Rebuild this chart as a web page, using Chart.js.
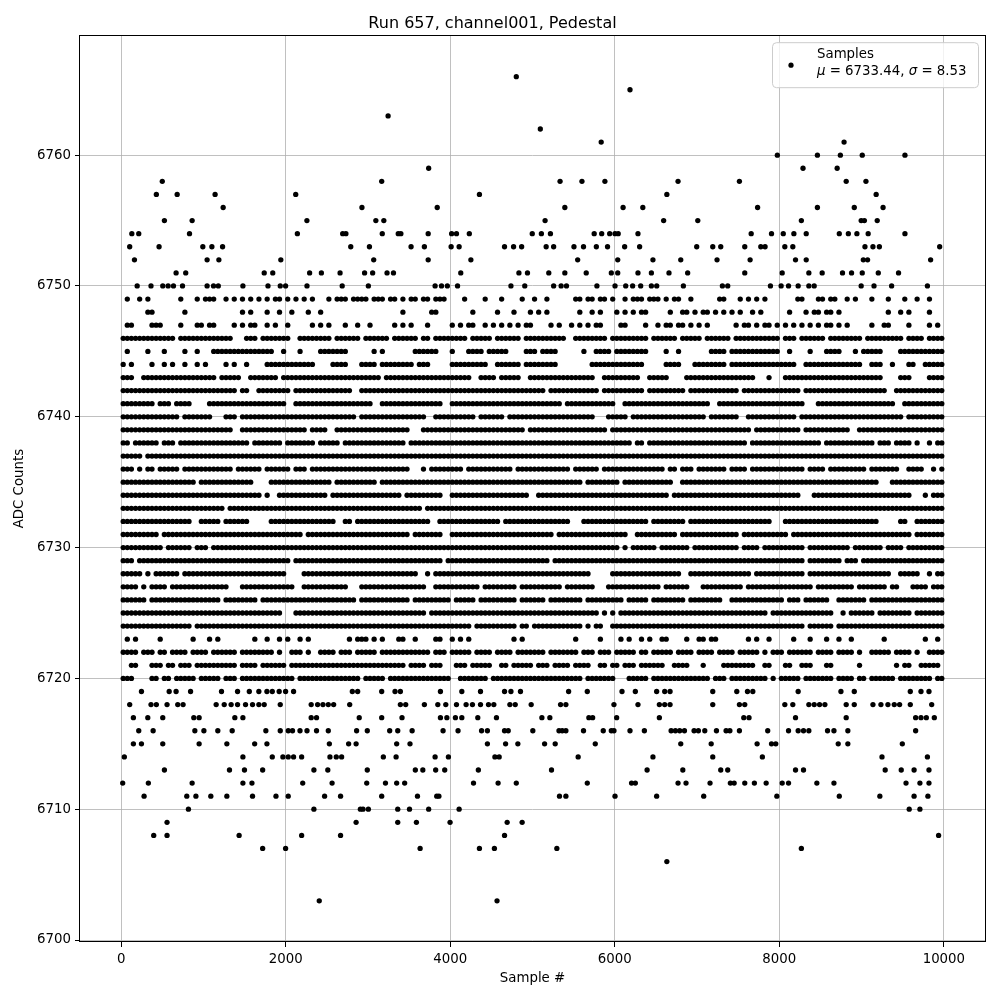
<!DOCTYPE html>
<html>
<head>
<meta charset="utf-8">
<title>Run 657, channel001, Pedestal</title>
<script src="https://cdn.jsdelivr.net/npm/chart.js@4.4.0/dist/chart.umd.min.js"></script>
<style>
  html, body { margin: 0; padding: 0; background: #fff; }
  #wrap { width: 1000px; height: 1000px; }
</style>
</head>
<body>
<div id="wrap"><canvas id="pedestalChart" width="1000" height="1000"></canvas></div>
<script>
// tick values
const xTicks = [0, 2000, 4000, 6000, 8000, 10000];
const yTicks = [6700, 6710, 6720, 6730, 6740, 6750, 6760];

// crowded ADC codes: one char per 50-sample cell, '1' = a sample sits at that code
const cellSamples = 50;
const denseLevels = [6749, 6748, 6747, 6746, 6745, 6744, 6743, 6742, 6741, 6740,
                     6739, 6738, 6737, 6736, 6735, 6734, 6733, 6732, 6731, 6730,
                     6729, 6728, 6727, 6726, 6725, 6724, 6723, 6722, 6721, 6720];
const denseRows = [
  ["01001010000000100010","11100101010101010110","10101010001011101111","01110110101101101110","00010000100010000100","10010000001101101101","00101110111010110010","00000110001010101000","00001100011011001010","00100010001001001000"],
  ["00000011000000010000","00000000010100010010","01000100100000000000","00000000100000011000","00000100000100010001","01010000000100101000","10101011000001001101","01101010101001010000","00100010110110100000","00000010010100001000"],
  ["01100001110000100011","01100001010110010100","10000010101000100100","10000010101000100000","10101100101010101011","00001010010101011000","01100001001011011010","10100000010110101101","01010101010110101000","00100110000100001010"],
  ["11111111111110111111","11111110001110111111","10011111111011111101","11111011111101101111","11110111110111111011","11111111001111111101","11111111011111101111","10111111011111111111","01110111111011111111","01111111110111101111"],
  ["01000010001000010010","00111111111111111001","00010000111111100000","01010000000111111000","10001111011111000011","10111100000010011110","11111111000010010000","00011110111111111111","00100001000111100010","11111000011111111111"],
  ["10100001001010010010","10000101001000011111","11111110000111100011","11011111111011100000","11111111100111111011","11111100000000111111","11111110000011110001","11111110111111111111","11110011111111111111","00111001000110011111"],
  ["11100111111111111111","11101111100111111101","11111111111111111111","11101111111111111111","11111001111011111001","11111111111111100111","11111100111110000111","11111111111111000100","01111111111111111111","11111000011100001111"],
  ["11111111111111111111","11111111011001111111","10111111111111110011","11111111111111111111","11111111111111111111","11101111111111110111","11111110111111111011","11111111110111111111","11111011111111111111","11111100111111111111"],
  ["11111111011101111000","01111111111111111111","00111111111111111111","10011111111111111100","11111111111111111111","11111110111111111111","00111111111111111111","11100111111111111111","11111100011111111111","11111111001111111111"],
  ["11111111111111011111","11000111011111111111","11111111111111111011","11111111111111001111","11111101111110111111","11111111111111100011","11101111111111111111","11011111110011111111","11110111111111111111","11111111110111111111"],
  ["11111111111111111111","11111110011111111111","11111011110011111111","11111111110001111111","11111111111111111101","11111111111111111101","11111111111111111111","11111111111110111111","11111011111111111001","11111111111111111111"],
  ["11011111101110111111","11111111111011111110","11111110111110111111","11111111101111111111","11111111111111111111","11111111111111111111","11110110111111111111","11111111111101111111","11111111110111111111","11101110111101001011"],
  ["11111011111111111111","11111111111111111111","11111111111111111111","11111111111111111111","11111111111111111111","11111111111111111111","11111111111111111111","11111111111111111111","11111111111111111111","11111111111111111111"],
  ["11101011011111011111","11111110111111011111","10111011111111111111","11111111110001011111","11101111111111101111","11111111101111110111","11111111111101101110","11111110111101111111","11111101111011111111","10111111100111100101"],
  ["11111111111111111101","11111111111100001111","11111111111011111111","11011111111111111111","11111111111111111111","11111111111101111111","10111111111111001111","11111111111111111111","11111111111111111111","11110001111111111111"],
  ["11111111111111111111","11111111111111010011","11111111110111111111","11111111011111111100","11111111111111111110","01111111111111111111","11111111111110111111","11111111111111111111","11111000111111111111","11111111111100010111"],
  ["11111111111111111111","11111011111111111111","11111111111111111111","11111111111110111111","11111111111111111111","11111111111111111111","11111111111111111111","11111111111111111111","11111111111111111111","11111111111111111111"],
  ["11111111111111111001","11110111111000001111","11111111111100110111","11111111111111100111","11111111111101111111","11111111100011111111","11111111011111111011","11111111111111111100","01111111111111111111","11110000011001111111"],
  ["11111111101111111111","11111111111111111111","11110111111111111111","11111111110111111100","11111111111111111111","11111011111111111111","11100111111111101111","11111111110111111111","11011111111111111111","11111111111101111111"],
  ["11111111110111111011","10111111111111111111","11111111111111111111","11111111111111111111","11111111111111111111","11111111111111111111","10101111110111111101","11111111110111101111","11111101111111111011","11111011110111111111"],
  ["11101111111111111111","11111111111111111111","10111111111111111111","11111111111111111101","11111111111111111111","11110111111111111111","11111111111111111111","11111111111111111111","11111101111111101110","11111111111111111111"],
  ["11111010111111011111","11111111111111111111","00001111111111111111","11111111111100101111","11111111111111111111","11111111111111000001","11111111111111110011","11111111111110111111","11111101111111111111","11111110011111001011"],
  ["11110101111011111111","11111100011111111111","11001111111111100011","11111111111111001111","11111110111111110111","11111110111111100011","11111111111011111100","01111111111011111111","11111111011111111101","11111101100011110111"],
  ["11111101111111111111","11110111111110111111","11111111111111111011","11111111110111111111","01111101111111110111","11101111111101111111","11011111011111111011","11111100111111111111","10111011111100111111","10111111111111111111"],
  ["11111111111111111111","11111111111111111110","00111111111111111111","11111111111111011111","11111111111111111111","11111111111111110101","01111111111111111111","11111111111111111011","11111111111110010111","11101111111101111111"],
  ["11111111111111111011","11111111111111111111","11111111111111111111","11111111111111111111","11111011111111110110","11111111111101011001","11111111111111111111","11111111111111111111","11111101111110111111","11111111111111111111"],
  ["01010000010000000100","01010000000010010010","10010100000000010111","01010001100100001100","10101000000000010100","00000000001000001000","01010010100110000100","11011000000010100100","00010001000100100100","00000100000000010010"],
  ["11110111011011110111","10111111011111111010","01110100111101110111","11011111111111101110","11111011110111101111","11101111111011101110","11111011011111011110","11110111101111101011","10111111011110111101","00111110111101001111"],
  ["00110001110110111011","11111111011110111111","01111111111111111111","11111111101111011100","01110111110011011111","01110111101111001101","10111011111100111100","01000011111111001100","01100111000110000001","00000000101100111110"],
  ["11100001101101111101","11110111011111111111","11011111111111111101","11110111111111111111","00111111101111111111","11111111111101111111","00011111011111111111","11101110111111111010","11111011111110111101","10111111011111111011"]
];

// thinly populated ADC codes: sample numbers
const sparseLevels = [6766, 6765, 6763, 6762, 6761, 6760, 6759, 6758, 6757, 6756, 6755,
                      6754, 6753, 6752, 6751, 6750,
                      6719, 6718, 6717, 6716, 6715, 6714, 6713, 6712, 6711, 6710,
                      6709, 6708, 6707, 6706, 6703];
const sparseSamples = [
  [4803],
  [6185],
  [3245],
  [5095],
  [5835, 8787],
  [7976, 8463, 8742, 9008, 9527],
  [3738, 8288, 8703],
  [500, 3167, 5335, 5601, 5880, 6769, 7515, 8813, 9053],
  [428, 681, 1142, 2122, 4355, 6633, 9177],
  [1240, 2927, 3842, 5393, 6101, 6341, 7736, 8463, 8911, 9261],
  [526, 863, 2258, 3096, 3193, 5153, 6594, 7009, 8268, 8995, 9034, 9190],
  [130, 214, 831, 2142, 2693, 2732, 3174, 3368, 3400, 3732, 4017, 4076, 4232, 4997, 5108, 5218,
   5750, 5841, 5938, 6003, 6042, 6282, 7658, 7905, 8048, 8177, 8327, 8729, 8839, 8943, 9080, 9527],
  [104, 461, 993, 1103, 1233, 2791, 3018, 3524, 3686, 4011, 4108, 4660, 4770, 4868, 5166, 5257,
   5504, 5620, 5776, 5912, 6120, 6302, 6996, 7191, 7288, 7580, 7775, 7827, 8067, 8164, 9041, 9138, 9216, 9949],
  [162, 1045, 1188, 1941, 3070, 3732, 4251, 5549, 6036, 6464, 6802, 7243, 7645, 8197, 8327, 9021, 9073, 9839],
  [668, 785, 1739, 1843, 2291, 2434, 2661, 2959, 3057, 3232, 3310, 4128, 4835, 4939, 5198, 5393,
   5653, 5958, 6036, 6282, 6445, 6659, 6886, 7580, 8035, 8359, 8521, 8768, 8878, 9008, 9203, 9449],
  [195, 363, 506, 571, 636, 746, 1045, 1123, 1181, 1480, 1785, 1934, 1999, 2259, 2687, 3005, 3816,
   3894, 3965, 4089, 4738, 4906, 5257, 5348, 5413, 5783, 6003, 6133, 6217, 6315, 6445, 6510, 6834,
   7308, 7373, 7892, 8022, 8112, 8229, 8359, 8424, 8995, 9151, 9365, 9800],
  [247, 584, 668, 844, 1220, 1415, 1558, 1674, 1772, 1837, 1921, 1999, 2096, 2810, 2875, 3167, 3329,
   3394, 3881, 4141, 4368, 4660, 4738, 4854, 5439, 5666, 6088, 6250, 6509, 6607, 6672, 7191, 7483,
   7613, 7678, 8229, 8749, 8911, 9592, 9722, 9819],
  [104, 363, 428, 558, 688, 753, 1155, 1253, 1337, 1415, 1512, 1597, 1674, 1739, 1934, 2310, 2388,
   2453, 2518, 2583, 2778, 3394, 3459, 3686, 3849, 3946, 4076, 4193, 4270, 4368, 4465, 4530, 4725,
   4790, 4984, 5341, 5406, 5990, 6282, 6542, 6607, 6672, 7191, 7515, 7580, 8067, 8164, 8359, 8424,
   8489, 8554, 8813, 8911, 9138, 9235, 9320, 9397, 9462, 9592, 9852],
  [149, 324, 506, 883, 948, 1382, 1480, 2310, 2375, 2894, 3167, 3414, 3881, 3959, 4063, 4141, 4335,
   4562, 5114, 5211, 5685, 5731, 6023, 6542, 7568, 7632, 8197, 8813, 9657, 9722, 9787, 9884],
  [214, 389, 896, 1006, 1175, 1350, 1759, 1934, 2031, 2083, 2174, 2259, 2375, 2518, 2862, 2992, 3264,
   3362, 3537, 3913, 4095, 4381, 4452, 4660, 4705, 5004, 5322, 5361, 5406, 5620, 5860, 5958, 5990,
   6185, 6360, 6685, 6737, 6789, 6847, 6964, 7016, 7094, 7236, 7353, 7399, 7515, 7859, 8112, 8229,
   8294, 8359, 8586, 8664, 8833, 9657],
  [149, 247, 506, 948, 1285, 1623, 1772, 2531, 2765, 2856, 3349, 3511, 4452, 4673, 4822, 5147, 5276,
   5763, 6802, 7172, 7730, 7905, 7957, 8716, 8833, 9495],
  [39, 1480, 1837, 1966, 2031, 2096, 2194, 2538, 2615, 2680, 3187, 3342, 3816, 3978, 4543, 4595, 5555,
   6464, 7191, 7794, 9248, 9800],
  [526, 1317, 1499, 1720, 2343, 2512, 2992, 3576, 3667, 3823, 3933, 4342, 5231, 6393, 6827, 7288, 7373,
   8197, 8294, 9287, 9482, 9638, 9819],
  [19, 331, 863, 1480, 1590, 2207, 2564, 2985, 3213, 3349, 3446, 4283, 4582, 4803, 5666, 6204, 6250,
   6769, 6866, 7158, 7405, 7451, 7580, 7697, 7840, 8035, 8112, 8456, 8664, 9540, 9709, 9819],
  [279, 798, 909, 1090, 1285, 1597, 1882, 2031, 2473, 2667, 3167, 3602, 3836, 3862, 5328, 5406, 6003,
   6509, 7081, 7970, 8729, 9222, 9638, 9806],
  [818, 2343, 2908, 2940, 3005, 3362, 3505, 3738, 4108, 9579, 9709],
  [558, 2856, 3362, 3589, 3998, 4692, 4874],
  [396, 558, 1434, 2194, 2667, 4660, 9936],
  [1720, 1999, 3634, 4355, 4537, 5296, 8268],
  [6633],
  [2408, 4569]
];

const seriesLabel = 'Samples';
const statsParts = [['μ', true], [' = 6733.44, ', false], ['σ', true], [' = 8.53', false]];

const points = [];
denseLevels.forEach((level, r) => {
  denseRows[r].join('').split('').forEach((c, i) => {
    if (c === '1') points.push({ x: i * cellSamples + cellSamples / 2, y: level });
  });
});
sparseLevels.forEach((level, r) => {
  sparseSamples[r].forEach(s => points.push({ x: s, y: level }));
});

const FONT = 'DejaVu Sans';
const tickFont = { family: FONT, size: 13.33, lineHeight: 1.2 };

// matplotlib-like closed frame
const framePlugin = {
  id: 'frame',
  afterDraw(chart) {
    const { ctx, chartArea: a } = chart;
    ctx.save();
    ctx.strokeStyle = '#000';
    ctx.lineWidth = 1;
    ctx.strokeRect(Math.round(a.left) - 0.5, Math.round(a.top) + 0.5,
                   Math.round(a.right - a.left) + 1, Math.round(a.bottom - a.top) - 1);
    ctx.restore();
  }
};

// legend box with the two text lines
const statsLegend = {
  id: 'statsLegend',
  afterDraw(chart) {
    const { ctx, chartArea: a } = chart;
    const w = 206, h = 45;
    const x = a.right - 7 - w, y = a.top + 7;
    ctx.save();
    ctx.beginPath();
    ctx.roundRect(x + 0.5, y + 0.5, w, h, 4);
    ctx.fillStyle = 'rgba(255,255,255,0.8)';
    ctx.fill();
    ctx.strokeStyle = '#cccccc';
    ctx.lineWidth = 1;
    ctx.stroke();

    ctx.beginPath();
    ctx.arc(x + 19, y + 23, 2.6, 0, Math.PI * 2);
    ctx.fillStyle = '#000';
    ctx.fill();

    ctx.textBaseline = 'middle';
    ctx.textAlign = 'left';
    ctx.font = '13.33px "DejaVu Sans"';
    ctx.fillText(seriesLabel, x + 45, y + 12);
    let tx = x + 45;
    statsParts.forEach(([t, italic]) => {
      ctx.font = (italic ? 'italic ' : '') + '13.33px "DejaVu Sans"';
      ctx.fillText(t, tx, y + 29.5);
      tx += ctx.measureText(t).width;
    });
    ctx.restore();
  }
};

const ctx = document.getElementById('pedestalChart').getContext('2d');
new Chart(ctx, {
  type: 'scatter',
  data: {
    datasets: [{
      label: seriesLabel,
      data: points,
      pointRadius: 2.65,
      pointHoverRadius: 2.65,
      backgroundColor: '#000',
      borderWidth: 0
    }]
  },
  options: {
    responsive: false,
    animation: false,
    events: [],
    layout: { padding: { left: 0, right: 15, top: 0, bottom: 0 } },
    plugins: {
      legend: { display: false },
      tooltip: { enabled: false },
      title: {
        display: true,
        text: 'Run 657, channel001, Pedestal',
        color: '#000',
        font: { family: FONT, size: 16, weight: 'normal', lineHeight: 1.2 },
        padding: { top: 14, bottom: 2 }
      }
    },
    scales: {
      x: {
        type: 'linear',
        min: -500,
        max: 10500,
        afterBuildTicks: s => { s.ticks = xTicks.map(v => ({ value: v })); },
        afterFit: s => { s.height = 58; },
        border: { display: false },
        grid: { color: '#b0b0b0', lineWidth: 0.8, tickColor: '#000', tickLength: 5, tickWidth: 1 },
        ticks: { color: '#000', font: tickFont, padding: 5, maxRotation: 0, callback: v => String(v) },
        title: { display: true, text: 'Sample #', color: '#000', font: tickFont, padding: { top: 0, bottom: 13 } }
      },
      y: {
        type: 'linear',
        min: 6699.85,
        max: 6769.17,
        afterBuildTicks: s => { s.ticks = yTicks.map(v => ({ value: v })); },
        afterFit: s => { s.width = 80; },
        border: { display: false },
        grid: { color: '#b0b0b0', lineWidth: 0.8, tickColor: '#000', tickLength: 5, tickWidth: 1 },
        ticks: { color: '#000', font: tickFont, padding: 4, callback: v => String(v) },
        title: { display: true, text: 'ADC Counts', color: '#000', font: tickFont, padding: { top: 12, bottom: 0 } }
      }
    }
  },
  plugins: [framePlugin, statsLegend]
});
</script>
</body>
</html>
